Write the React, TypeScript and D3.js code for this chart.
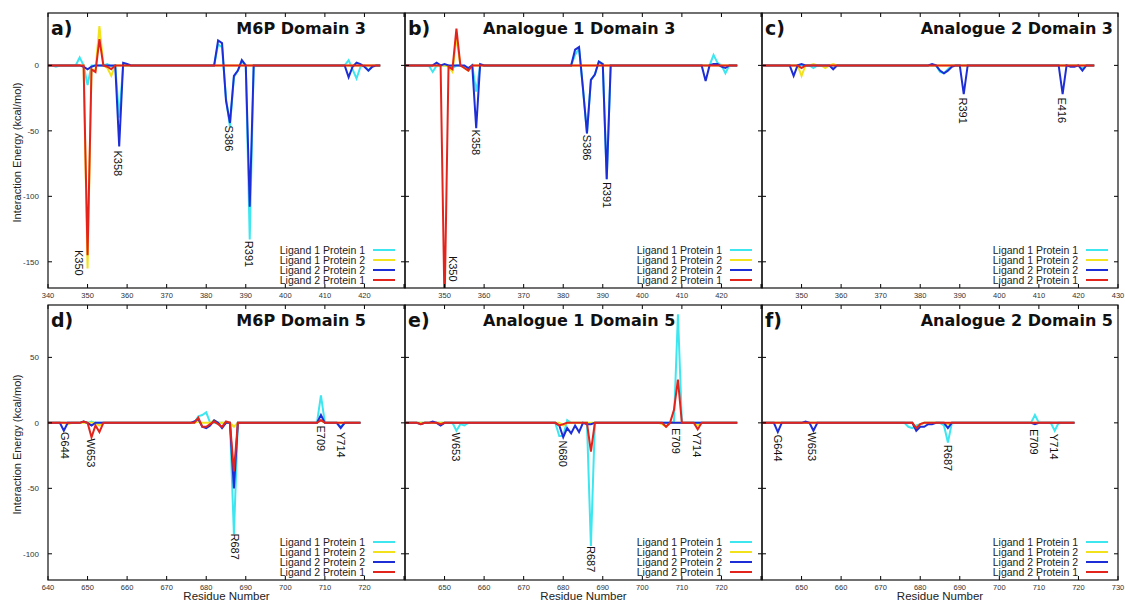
import React from 'react';
import * as d3 from 'd3';

type Pt = [number, number];

const SERIES_NAMES = ['Ligand 1 Protein 1', 'Ligand 1 Protein 2', 'Ligand 2 Protein 2', 'Ligand 2 Protein 1'];
const SERIES_COLORS = ['#3ee6f0', '#f2e21c', '#1e2ed6', '#e3241c'];

const DOMAIN3_X: [number, number] = [340, 430];
const DOMAIN5_X: [number, number] = [640, 730];
const TOP_Y: [number, number] = [-170, 40];
const BOTTOM_Y: [number, number] = [-120, 90];
const TOP_Y_TICKS = [-150, -100, -50, 0];
const BOTTOM_Y_TICKS = [-100, -50, 0, 50];

// Non-zero residue energies (all other residues are 0)
// a) M6P Domain 3, residues 340-424
const a_L1P1: Pt[] = [[342, -1], [348, 6], [349, 0], [350, -15], [351, 0], [355, 1], [356, -1], [358, -40], [383, 16], [384, 14], [385, -25], [386, -47], [387, -9], [388, -4], [389, 3], [391, -133], [416, 4], [417, -3], [418, -10], [419, -1], [421, -4]];
const a_L1P2: Pt[] = [[350, -155], [351, -3], [352, -4], [353, 30], [355, -2], [356, -8]];
const a_L2P2: Pt[] = [[349, -1], [350, -3], [351, -1], [358, -62], [359, 2], [360, 1], [383, 19], [384, 17], [385, -27], [386, -44], [387, -8], [388, -4], [389, 4], [391, -108], [416, -9], [417, -1], [418, 2], [419, 1], [420, -1], [421, -4], [422, -1]];
const a_L2P1: Pt[] = [[350, -145], [351, -3], [352, -5], [353, 20], [355, -1], [356, -3]];

// b) Analogue 1 Domain 3
const b_L1P1: Pt[] = [[347, -5], [352, -2], [355, -1], [356, -3], [358, -20], [383, 8], [384, 13], [385, -18], [386, -52], [387, -11], [388, -7], [389, 3], [390, 1], [391, -87], [418, 8], [419, 2], [421, -6]];
const b_L1P2: Pt[] = [[351, -1], [352, -5], [353, 22], [355, -2], [356, -4]];
const b_L2P2: Pt[] = [[348, 2], [350, 1], [356, -2], [358, -48], [359, 1], [383, 12], [384, 14], [385, -18], [386, -52], [387, -11], [388, -7], [389, 3], [390, 1], [391, -87], [416, -12], [418, 1], [419, 1], [420, -1], [421, -2]];
const b_L2P1: Pt[] = [[350, -185], [351, -1], [352, -3], [353, 28], [355, -2], [356, -4]];

// c) Analogue 2 Domain 3
const c_L1P1: Pt[] = [[353, -2], [358, -2], [385, -5], [386, -6], [387, -3], [421, -2]];
const c_L1P2: Pt[] = [[350, -8], [353, 1], [356, -2], [358, 1]];
const c_L2P2: Pt[] = [[348, -8], [350, 1], [358, -3], [383, 1], [385, -4], [386, -6], [387, -4], [388, -1], [391, -22], [416, -22], [418, -1], [419, -1], [421, -4]];
const c_L2P1: Pt[] = [[350, -2]];

// d) M6P Domain 5, residues 640-719
const d_L1P1: Pt[] = [[649, 1], [651, 1], [678, 5], [679, 6], [680, 8], [687, -85], [709, 21], [714, -3]];
const d_L1P2: Pt[] = [[645, -1], [653, -2], [678, 1], [682, 2], [687, -3], [709, 2]];
const d_L2P2: Pt[] = [[644, -6], [649, 1], [651, -2], [677, 1], [678, 3], [679, -3], [680, -4], [681, -2], [682, 2], [684, -4], [687, -50], [709, 6], [714, -4]];
const d_L2P1: Pt[] = [[649, 1], [651, -11], [652, -2], [653, -7], [678, 4], [679, -3], [680, -3], [681, -1], [682, 1], [683, -1], [684, -3], [685, 1], [687, -37], [709, 2]];

// e) Analogue 1 Domain 5, residues 640-724
const e_L1P1: Pt[] = [[653, -6], [654, -1], [655, -2], [679, -10], [680, -10], [681, 2], [687, -94], [708, 1], [709, 83]];
const e_L1P2: Pt[] = [[680, -2], [705, -1], [706, -3], [714, -2]];
const e_L2P2: Pt[] = [[644, -1], [647, 1], [649, -2], [679, -2], [680, -11], [681, -4], [682, -8], [683, -2], [684, -7], [686, -1], [687, -1]];
const e_L2P1: Pt[] = [[644, -1], [649, -1], [679, -2], [680, -1], [687, -22], [706, -3], [708, 10], [709, 33], [714, -5]];

// f) Analogue 2 Domain 5, residues 640-719
const f_L1P1: Pt[] = [[677, -3], [678, -4], [679, -2], [680, -1], [686, -2], [687, -15], [709, 6], [714, -6]];
const f_L1P2: Pt[] = [[679, -4], [680, -1], [687, -1]];
const f_L2P2: Pt[] = [[644, -7], [651, 1], [653, -6], [679, -6], [680, -3], [681, -3], [682, -1], [683, -1], [687, -4], [709, -1]];
const f_L2P1: Pt[] = [[679, -4], [680, -1]];

// residue annotations: [text, residue position, energy position]
type Lab = [string, number, number];
const a_LABELS: Lab[] = [['K350', 347.8, -141], ['K358', 357.7, -65], ['S386', 385.8, -46], ['R391', 390.8, -134]];
const b_LABELS: Lab[] = [['K358', 357.9, -49], ['S386', 386.1, -53], ['R391', 391.1, -89], ['K350', 352.2, -145.5]];
const c_LABELS: Lab[] = [['R391', 390.9, -24.5], ['E416', 415.8, -24.5]];
const d_LABELS: Lab[] = [['G644', 644.3, -7], ['W653', 650.9, -12], ['R687', 687.3, -84.5], ['E709', 709, -2], ['Y714', 714, -7]];
const e_LABELS: Lab[] = [['W653', 652.9, -7.4], ['N680', 679.9, -13.5], ['R687', 687, -94], ['E709', 708.5, -4], ['Y714', 713.9, -6.7]];
const f_LABELS: Lab[] = [['G644', 644.1, -9], ['W653', 652.7, -7.2], ['R687', 687.1, -16.8], ['E709', 708.8, -4.6], ['Y714', 713.8, -8.4]];

const TOP_X_TICKS = d3.range(340, 431, 10);
const BOTTOM_X_TICKS = d3.range(640, 731, 10);

interface PanelCfg {
  letter: string; title: string; titleX: number; titleAnchor: 'start' | 'end';
  col: number; row: number; xDomain: [number, number]; yDomain: [number, number];
  yTicks: number[]; xTicks: number[]; xLabels: number[]; resStart: number; resEnd: number;
  series: Pt[][]; labels: Lab[];
}

const COL_X = [48, 405, 762];
const PANEL_W = 356;
const ROW_Y = [13, 305];
const PANEL_H = 275;

const PANELS: PanelCfg[] = [
  { letter: 'a)', title: 'M6P Domain 3', titleX: 366, titleAnchor: 'end', col: 0, row: 0, xDomain: DOMAIN3_X, yDomain: TOP_Y, yTicks: TOP_Y_TICKS, xTicks: TOP_X_TICKS, xLabels: d3.range(340, 421, 10), resStart: 340, resEnd: 424, series: [a_L1P1, a_L1P2, a_L2P2, a_L2P1], labels: a_LABELS },
  { letter: 'b)', title: 'Analogue 1 Domain 3', titleX: 483, titleAnchor: 'start', col: 1, row: 0, xDomain: DOMAIN3_X, yDomain: TOP_Y, yTicks: TOP_Y_TICKS, xTicks: TOP_X_TICKS, xLabels: d3.range(350, 421, 10), resStart: 340, resEnd: 424, series: [b_L1P1, b_L1P2, b_L2P2, b_L2P1], labels: b_LABELS },
  { letter: 'c)', title: 'Analogue 2 Domain 3', titleX: 1113, titleAnchor: 'end', col: 2, row: 0, xDomain: DOMAIN3_X, yDomain: TOP_Y, yTicks: TOP_Y_TICKS, xTicks: TOP_X_TICKS, xLabels: d3.range(350, 431, 10), resStart: 340, resEnd: 424, series: [c_L1P1, c_L1P2, c_L2P2, c_L2P1], labels: c_LABELS },
  { letter: 'd)', title: 'M6P Domain 5', titleX: 366, titleAnchor: 'end', col: 0, row: 1, xDomain: DOMAIN5_X, yDomain: BOTTOM_Y, yTicks: BOTTOM_Y_TICKS, xTicks: BOTTOM_X_TICKS, xLabels: d3.range(640, 721, 10), resStart: 640, resEnd: 719, series: [d_L1P1, d_L1P2, d_L2P2, d_L2P1], labels: d_LABELS },
  { letter: 'e)', title: 'Analogue 1 Domain 5', titleX: 483, titleAnchor: 'start', col: 1, row: 1, xDomain: DOMAIN5_X, yDomain: BOTTOM_Y, yTicks: BOTTOM_Y_TICKS, xTicks: BOTTOM_X_TICKS, xLabels: d3.range(650, 721, 10), resStart: 640, resEnd: 724, series: [e_L1P1, e_L1P2, e_L2P2, e_L2P1], labels: e_LABELS },
  { letter: 'f)', title: 'Analogue 2 Domain 5', titleX: 1113, titleAnchor: 'end', col: 2, row: 1, xDomain: DOMAIN5_X, yDomain: BOTTOM_Y, yTicks: BOTTOM_Y_TICKS, xTicks: BOTTOM_X_TICKS, xLabels: d3.range(650, 731, 10), resStart: 640, resEnd: 719, series: [f_L1P1, f_L1P2, f_L2P2, f_L2P1], labels: f_LABELS },
];

function fullSeries(sparse: Pt[], start: number, end: number): Pt[] {
  const m = new Map<number, number>(sparse);
  return d3.range(start, end + 1).map((r) => [r, m.has(r) ? (m.get(r) as number) : 0] as Pt);
}

const SANS = '"Liberation Sans", Arial, Helvetica, sans-serif';
const BOLD = '"DejaVu Sans", Verdana, sans-serif';

function Panel({ p, idx }: { p: PanelCfg; idx: number }) {
  const left = COL_X[p.col];
  const top = ROW_Y[p.row];
  const right = left + PANEL_W + (p.col === 2 ? 0 : 1);
  const bottom = top + PANEL_H;
  const x = d3.scaleLinear().domain(p.xDomain).range([left, left + PANEL_W]);
  const y = d3.scaleLinear().domain(p.yDomain).range([bottom, top]);
  const line = d3.line<Pt>().x((d) => x(d[0])).y((d) => y(d[1]));
  const clipId = `clip-${idx}`;
  const tick = 4;
  return (
    <g>
      <defs>
        <clipPath id={clipId}>
          <rect x={left} y={top} width={right - left} height={bottom - top} />
        </clipPath>
      </defs>
      <g clipPath={`url(#${clipId})`}>
        {p.series.map((s, i) => (
          <path key={i} d={line(fullSeries(s, p.resStart, p.resEnd)) || ''} fill="none" stroke={SERIES_COLORS[i]} strokeWidth={2} strokeLinejoin="miter" />
        ))}
      </g>
      {p.xTicks.map((t) => (
        <g key={`xt${t}`}>
          <line x1={x(t)} x2={x(t)} y1={bottom} y2={bottom - tick} stroke="#000" strokeWidth={1} />
          <line x1={x(t)} x2={x(t)} y1={top} y2={top + tick} stroke="#000" strokeWidth={1} />
        </g>
      ))}
      {p.yTicks.map((t) => (
        <g key={`yt${t}`}>
          <line x1={left} x2={left + tick} y1={y(t)} y2={y(t)} stroke="#000" strokeWidth={1} />
          <line x1={right} x2={right - tick} y1={y(t)} y2={y(t)} stroke="#000" strokeWidth={1} />
        </g>
      ))}
      <rect x={left} y={top} width={right - left} height={bottom - top} fill="none" stroke="#111" strokeWidth={1.2} />
      {p.xLabels.map((t) => (
        <text key={`xl${t}`} x={x(t)} y={bottom + 9.5} fontSize={7.5} fontFamily={SANS} textAnchor="middle" fill="#333">{t}</text>
      ))}
      {p.col === 0 && p.yTicks.map((t) => (
        <text key={`yl${t}`} x={left - 9} y={y(t)} dy="0.35em" fontSize={8} fontFamily={SANS} textAnchor="end" fill="#333">{t}</text>
      ))}
      {p.labels.map(([txt, rx, ry]) => (
        <text key={txt} transform={`translate(${x(rx)},${y(ry)}) rotate(90)`} fontSize={11} fontFamily={SANS} dominantBaseline="central" fill="#111">{txt}</text>
      ))}
      <text x={left + 3} y={top + 22} fontSize={19} fontWeight="bold" fontFamily={BOLD} fill="#111">{p.letter}</text>
      <text x={p.titleX} y={top + 21} fontSize={16} fontWeight="bold" fontFamily={BOLD} textAnchor={p.titleAnchor} fill="#111">{p.title}</text>
      {SERIES_NAMES.map((n, i) => {
        const ly = bottom - 38 + i * 10;
        return (
          <g key={n}>
            <text x={right - 40} y={ly} dy="0.35em" fontSize={10.5} fontFamily={SANS} textAnchor="end" fill="#222">{n}</text>
            <line x1={right - 32} x2={right - 10} y1={ly} y2={ly} stroke={SERIES_COLORS[i]} strokeWidth={2} />
          </g>
        );
      })}
      {p.row === 1 && (
        <text x={(left + right) / 2} y={bottom + 20} fontSize={11.5} fontFamily={SANS} textAnchor="middle" fill="#222">Residue Number</text>
      )}
      {p.col === 0 && (
        <text transform={`translate(17,${(top + bottom) / 2 + 2}) rotate(-90)`} fontSize={11} fontFamily={SANS} textAnchor="middle" dominantBaseline="central" fill="#222">Interaction Energy (kcal/mol)</text>
      )}
    </g>
  );
}

export default function App() {
  return (
    <svg width={1125} height={603} style={{ position: 'absolute', left: 0, top: 0, background: '#fff' }}>
      <rect x={0} y={0} width={1125} height={603} fill="#fff" />
      {PANELS.map((p, i) => (
        <Panel key={i} p={p} idx={i} />
      ))}
    </svg>
  );
}
